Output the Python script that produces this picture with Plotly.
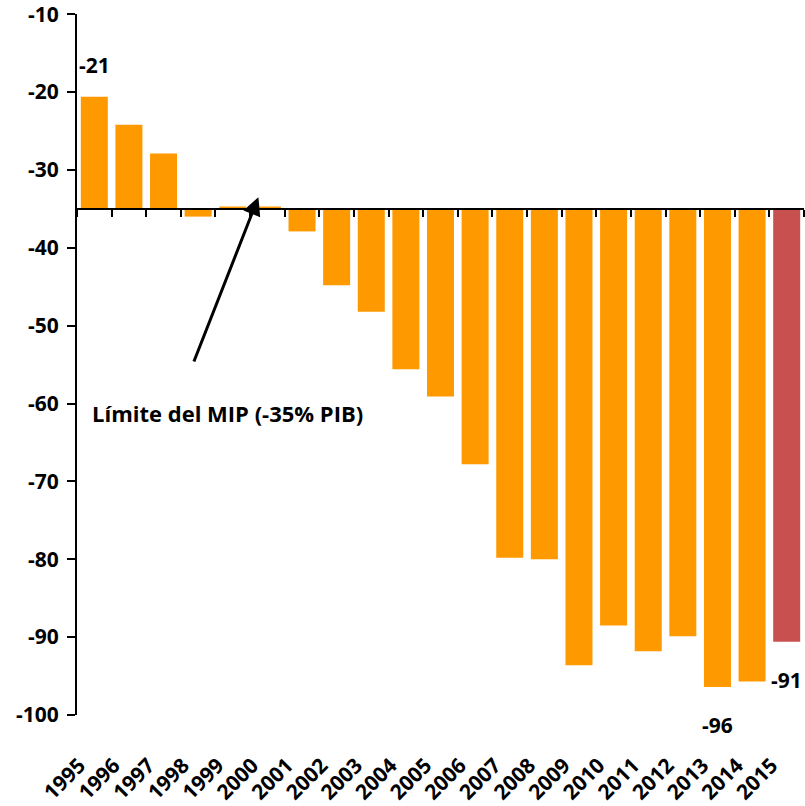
import plotly.graph_objects as go

# Net international investment position, % of GDP
years = [str(y) for y in range(1995, 2016)]
values = [-20.6, -24.2, -27.9, -36.0, -34.7, -34.7, -37.9, -44.8, -48.2, -55.6,
          -59.1, -67.8, -79.8, -80.0, -93.6, -88.5, -91.8, -89.9, -96.4, -95.7, -90.6]
mip_limit = -35.0
labelled_years = ["1995", "2013", "2015"]
limit_text = "Límite del MIP (-35% PIB)"

y_ticks = list(range(-100, 0, 10))

orange = "#ff9900"
red = "#c8504e"
colors = [red if y == "2015" else orange for y in years]

FONT = "Open Sans"

fig = go.Figure()

# bars hang from the -35% threshold
fig.add_trace(go.Bar(
    x=years,
    y=[v - mip_limit for v in values],
    base=mip_limit,
    marker=dict(color=colors, line=dict(width=0)),
    xaxis="x", yaxis="y",
    hoverinfo="skip",
))

# invisible trace carrying the threshold axis with its boundary ticks
fig.add_trace(go.Scatter(
    x=years, y=[mip_limit] * len(years),
    mode="markers", marker=dict(opacity=0),
    xaxis="x2", yaxis="y", showlegend=False, hoverinfo="skip",
))

y_min, y_max = -100, -10
y_top = y_max + 0.02
threshold_pos = (mip_limit - y_min) / (y_top - y_min)

fig.update_layout(
    width=805, height=806,
    margin=dict(l=77, r=1, t=14, b=91),
    paper_bgcolor="white", plot_bgcolor="white",
    showlegend=False,
    bargap=0.22,
    font=dict(family=FONT, color="black", size=19, weight=700),
    xaxis=dict(
        type="category", categoryarray=years, categoryorder="array",
        range=[-0.5, len(years) - 0.5],
        showline=False, showgrid=False, zeroline=False,
        ticks="", tickangle=-45,
        tickfont=dict(family=FONT, size=21, weight=700, color="black"),
        ticklabelstandoff=33, ticklabelshift=-15,
    ),
    xaxis2=dict(
        type="category", categoryarray=years, categoryorder="array",
        range=[-0.5, len(years) - 0.5],
        overlaying="x", anchor="free", position=threshold_pos,
        showline=True, linecolor="black", linewidth=2,
        showgrid=False, zeroline=False,
        ticks="outside", ticklen=7, tickwidth=2, tickcolor="black",
        tickson="boundaries", showticklabels=False,
    ),
    yaxis=dict(
        range=[y_min, y_top],
        tickvals=y_ticks, ticktext=[str(t) for t in y_ticks],
        showline=True, linecolor="black", linewidth=2,
        showgrid=False, zeroline=False,
        ticks="outside", ticklen=8, tickwidth=2, tickcolor="black",
        tickfont=dict(family=FONT, size=21, weight=700, color="black"),
        ticklabelstandoff=4, ticklabeloverflow="allow",
    ),
)

# value labels (category index used for the x position)
for yr in labelled_years:
    i = years.index(yr)
    v = values[i]
    above = v > mip_limit
    fig.add_annotation(
        x=i, y=v, xref="x", yref="y",
        text=f"{round(v):d}", showarrow=False,
        xanchor="center", yanchor="bottom" if above else "top",
        yshift=16 if above else -22,
        font=dict(family=FONT, size=21, weight=700, color="black"),
    )

# arrow pointing at the threshold line
fig.add_annotation(
    x=4.74, y=-33.5, xref="x", yref="y",
    ax=2.86, ay=-54.8, axref="x", ayref="y",
    text="", showarrow=True,
    arrowhead=2, arrowsize=1.2, arrowwidth=3, arrowcolor="black",
)
fig.add_annotation(
    x=-0.13, y=-61.2, xref="x", yref="y",
    text=limit_text, showarrow=False,
    xanchor="left", yanchor="middle",
    font=dict(family=FONT, size=22, weight=700, color="black"),
)

fig.write_html("out.html")
